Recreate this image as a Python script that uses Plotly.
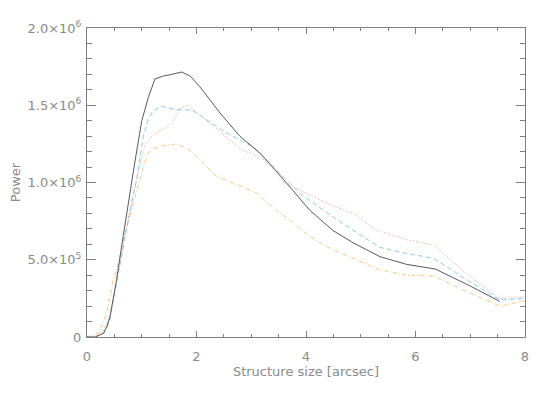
import plotly.graph_objects as go

# structure size [arcsec] and power (units of 1e6)
x_black = [0.0, 0.15, 0.3, 0.36, 0.42, 0.54, 0.66, 0.78, 0.85, 1.0, 1.12, 1.24, 1.4, 1.55, 1.73,
           1.88, 2.06, 2.43, 2.79, 3.16, 3.49, 4.07, 4.49, 4.86, 5.35, 5.84, 6.36, 7.0, 7.54]
p_black = [0.0, 0.0, 0.024, 0.065, 0.13, 0.37, 0.65, 0.93, 1.08, 1.40, 1.55, 1.67, 1.69, 1.70, 1.715,
           1.69, 1.62, 1.45, 1.30, 1.19, 1.06, 0.82, 0.69, 0.61, 0.52, 0.47, 0.44, 0.33, 0.23]

x_blue = [0.0, 0.15, 0.3, 0.36, 0.42, 0.54, 0.66, 0.72, 0.85, 0.91, 1.03, 1.12, 1.2, 1.36, 1.5,
          1.7, 1.91, 2.12, 2.55, 3.04, 3.46, 3.89, 4.56, 5.35, 5.84, 6.33, 6.94, 7.54, 8.0]
p_blue = [0.0, 0.0, 0.02, 0.06, 0.12, 0.35, 0.60, 0.69, 0.93, 1.02, 1.30, 1.41, 1.46, 1.495, 1.48,
          1.47, 1.47, 1.42, 1.32, 1.23, 1.08, 0.93, 0.76, 0.58, 0.54, 0.51, 0.37, 0.24, 0.25]

x_red = [0.0, 0.15, 0.3, 0.42, 0.54, 0.66, 0.785, 0.94, 1.06, 1.18, 1.36, 1.55, 1.7, 1.85,
         2.12, 2.43, 2.79, 3.22, 3.46, 3.58, 4.07, 4.44, 4.87, 5.29, 5.84, 6.33, 6.93, 7.54, 8.0]
p_red = [0.0, 0.005, 0.04, 0.14, 0.36, 0.60, 0.82, 1.08, 1.24, 1.30, 1.34, 1.38, 1.48, 1.50,
         1.42, 1.33, 1.22, 1.15, 1.07, 1.005, 0.92, 0.855, 0.80, 0.69, 0.63, 0.595, 0.41, 0.25, 0.26]

x_orange = [0.0, 0.1, 0.21, 0.36, 0.48, 0.54, 0.66, 0.785, 0.92, 1.03, 1.09, 1.18, 1.33, 1.42,
            1.64, 1.88, 2.19, 2.37, 2.61, 2.79, 3.1, 3.46, 3.71, 4.07, 4.44, 4.86, 5.35, 5.84,
            6.33, 6.94, 7.54, 8.0]
p_orange = [0.0, 0.01, 0.025, 0.155, 0.37, 0.43, 0.62, 0.79, 0.97, 1.10, 1.17, 1.22, 1.23, 1.24,
            1.25, 1.21, 1.10, 1.04, 1.005, 0.98, 0.93, 0.82, 0.757, 0.65, 0.574, 0.51, 0.434, 0.40,
            0.395, 0.293, 0.20, 0.235]

y_tickvals = [0, 0.5e6, 1.0e6, 1.5e6, 2.0e6]
y_ticktext = ["0", "5.0×10<sup>5</sup>", "1.0×10<sup>6</sup>", "1.5×10<sup>6</sup>", "2.0×10<sup>6</sup>"]

axis_col = "#7f7f7f"
text_col = "#8a8a8a"


def scale(vals):
    return [v * 1e6 for v in vals]


fig = go.Figure()
fig.add_trace(go.Scatter(x=x_orange, y=scale(p_orange), mode="lines",
                         line=dict(color="#fcc27f", width=1, dash="4px,2px,1px,2px")))
fig.add_trace(go.Scatter(x=x_red, y=scale(p_red), mode="lines",
                         line=dict(color="#f29a88", width=1, dash="1px,2px")))
fig.add_trace(go.Scatter(x=x_blue, y=scale(p_blue), mode="lines",
                         line=dict(color="#87cdf2", width=1, dash="5px,3px")))
fig.add_trace(go.Scatter(x=x_black, y=scale(p_black), mode="lines",
                         line=dict(color="#5a5a5a", width=1)))

# the page body has an 8px margin, so the figure is shifted by it
fig.update_layout(
    width=551, height=393,
    margin=dict(l=79, r=34, t=20, b=64),
    paper_bgcolor="white", plot_bgcolor="white",
    showlegend=False,
    font=dict(family="DejaVu Sans", size=12, color=text_col),
)
fig.update_xaxes(
    range=[0, 8], tickvals=[0, 2, 4, 6, 8], showgrid=False, zeroline=False,
    showline=True, linecolor=axis_col, linewidth=1, mirror="allticks",
    ticks="inside", ticklen=6, tickcolor=axis_col, ticklabelstandoff=7,
    minor=dict(dtick=0.5, ticks="inside", ticklen=3, tickcolor=axis_col, showgrid=False),
    title=dict(text="Structure size [arcsec]", standoff=4, font=dict(size=13)),
    tickfont=dict(size=13), automargin=False,
)
fig.update_yaxes(
    range=[0, 2.0e6], tickvals=y_tickvals, ticktext=y_ticktext, showgrid=False, zeroline=False,
    showline=True, linecolor=axis_col, linewidth=1, mirror="allticks",
    ticks="inside", ticklen=9, tickcolor=axis_col, ticklabelstandoff=2,
    minor=dict(dtick=1e5, ticks="inside", ticklen=5, tickcolor=axis_col, showgrid=False),
    title=dict(text="Power", standoff=20, font=dict(size=13)),
    tickfont=dict(size=13), automargin=False,
)

fig.write_html("out.html")
